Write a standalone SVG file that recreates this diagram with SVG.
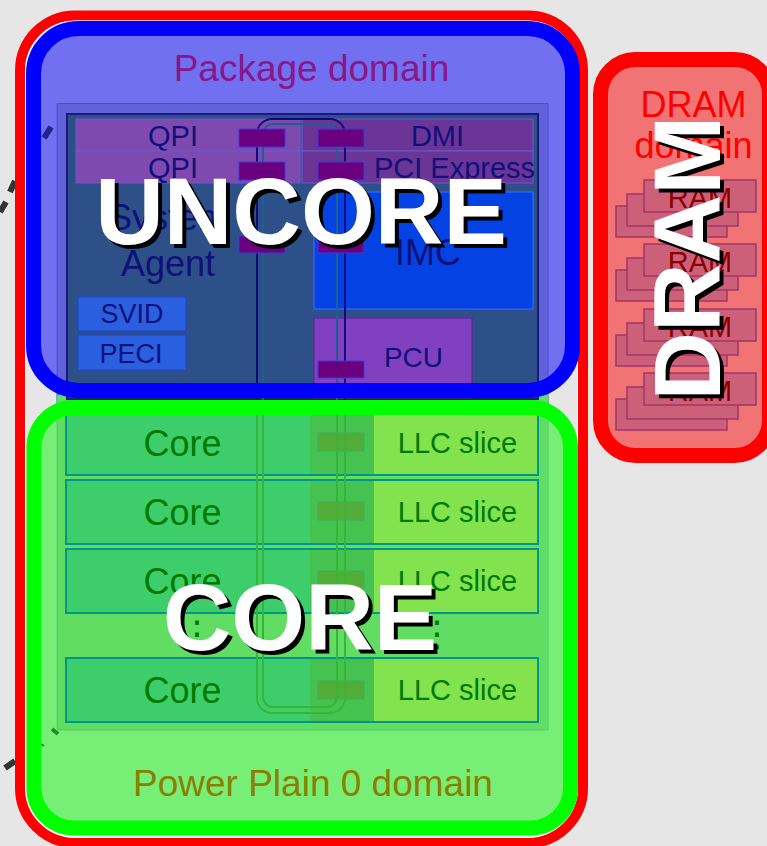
<svg xmlns="http://www.w3.org/2000/svg" width="767" height="846" viewBox="0 0 767 846">
<style>
text{font-family:"Liberation Sans",Arial,sans-serif}
.c{text-anchor:middle}
.navy{fill:#10107a}
.gt{fill:#007a00}
.big{font-weight:bold;font-size:95px;text-anchor:middle}
.sh{fill:#000}
.wh{fill:#fff}
.stop{fill:#6a0080;stroke:#3a3ad8;stroke-width:1}
.gstop{fill:#52ad38;stroke:#3fae5e;stroke-width:1}
.rowb{fill:none;stroke:#00968c;stroke-width:2}
.core{fill:#3dce6b}
.mid{fill:#45c250}
.llc{fill:#82e34f}
.ram{fill:#cc6079;stroke:#a3356a;stroke-width:1.5}
.dash{stroke:#333;stroke-width:6}
.dots{font-family:"DejaVu Sans",sans-serif;font-size:36px;fill:#007a00;text-anchor:middle}
</style>
<defs>
<clipPath id="cu"><rect x="0" y="0" width="767" height="400"/></clipPath>
<clipPath id="cl"><rect x="0" y="400" width="767" height="446"/></clipPath>
</defs>
<rect width="767" height="846" fill="#e6e6e6"/>
<g id="dashes-out">
<line class="dash" x1="10" y1="192" x2="15" y2="181"/>
<line class="dash" x1="0" y1="212" x2="6" y2="202"/>
<line class="dash" x1="5" y1="768" x2="15" y2="761"/>
</g>
<g id="package-outer">
<rect x="20" y="15.5" width="563" height="827.5" rx="55" fill="none" stroke="#ff0000" stroke-width="10"/>
<rect x="25.5" y="21" width="552" height="816.5" rx="50" fill="none" stroke="#ffffff" stroke-width="1"/>
</g>
<rect x="33.5" y="28.5" width="539" height="362" rx="45" fill="#7070f0"/>
<rect x="34" y="407.5" width="536.5" height="420.5" rx="40" fill="#77ef77"/>
<g id="dashes-in">
<line x1="44" y1="138" x2="51" y2="127" stroke="#23238f" stroke-width="6"/>
<line x1="52" y1="729" x2="58" y2="734" stroke="#2a8a2a" stroke-width="4"/>
<line x1="41" y1="744" x2="44" y2="746" stroke="#2a8a2a" stroke-width="2"/>
</g>
<g id="chip">
<rect x="57" y="103.5" width="491" height="300" fill="#6161dc" stroke="#4a4ae2" stroke-width="1"/>
<rect x="57" y="395" width="491" height="335" fill="#60dd62" stroke="#52cc70" stroke-width="1"/>
<rect x="67" y="114" width="471" height="285" fill="#2d5089" stroke="#1a1a7a" stroke-width="2"/>
</g>
<g id="qpi1"><rect x="76" y="119" width="224" height="32" fill="#7f4aaf" stroke="#6b5acb" stroke-width="1"/><text x="173" y="146" font-size="29" class="c navy">QPI</text></g>
<g id="qpi2"><rect x="76" y="151" width="224" height="32" fill="#7f4aaf" stroke="#6b5acb" stroke-width="1"/><text x="173" y="178" font-size="29" class="c navy">QPI</text></g>
<g id="dmi"><rect x="302" y="119" width="231" height="32" fill="#6a3596" stroke="#6b5acb" stroke-width="1"/><text x="437.5" y="146" font-size="29" class="c navy">DMI</text></g>
<g id="pcie"><rect x="302" y="151" width="231" height="32" fill="#6a3596" stroke="#6b5acb" stroke-width="1"/><text x="454.5" y="178" font-size="29" class="c navy">PCI Express</text></g>
<g id="system-agent"><text x="168" y="230" font-size="36" class="c navy">System</text><text x="168" y="276" font-size="36" class="c navy">Agent</text></g>
<g id="svid"><rect x="78" y="297" width="108" height="34" fill="#2a5fe0" stroke="#1a45d0" stroke-width="1"/><text x="132" y="323" font-size="27" class="c navy">SVID</text></g>
<g id="peci"><rect x="78" y="335" width="108" height="35" fill="#2a5fe0" stroke="#1a45d0" stroke-width="1"/><text x="131" y="363" font-size="27" class="c navy">PECI</text></g>
<g id="imc"><rect x="314" y="192" width="219" height="117" fill="#0442e4" stroke="#3b6cff" stroke-width="1"/><text x="428" y="265" font-size="36" class="c navy">IMC</text></g>
<g id="pcu"><rect x="314" y="318" width="158" height="80" fill="#8040c0" stroke="#6a1a9a" stroke-width="1"/><text x="413.5" y="367" font-size="28" class="c navy">PCU</text></g>
<g id="core1"><rect class="core" x="66" y="411" width="244" height="64"/><rect class="mid" x="310" y="411" width="64" height="64"/><rect class="llc" x="374" y="411" width="164" height="64"/><rect class="rowb" x="66" y="411" width="472" height="64"/><rect class="gstop" x="318" y="433" width="46" height="18"/><text x="182.5" y="456" font-size="36" class="c gt">Core</text><text x="457.5" y="453" font-size="29" class="c gt">LLC slice</text></g>
<g id="core2"><rect class="core" x="66" y="480" width="244" height="64"/><rect class="mid" x="310" y="480" width="64" height="64"/><rect class="llc" x="374" y="480" width="164" height="64"/><rect class="rowb" x="66" y="480" width="472" height="64"/><rect class="gstop" x="318" y="502" width="46" height="18"/><text x="182.5" y="525" font-size="36" class="c gt">Core</text><text x="457.5" y="522" font-size="29" class="c gt">LLC slice</text></g>
<g id="core3"><rect class="core" x="66" y="549" width="244" height="64"/><rect class="mid" x="310" y="549" width="64" height="64"/><rect class="llc" x="374" y="549" width="164" height="64"/><rect class="rowb" x="66" y="549" width="472" height="64"/><rect class="gstop" x="318" y="571" width="46" height="18"/><text x="182.5" y="594" font-size="36" class="c gt">Core</text><text x="457.5" y="591" font-size="29" class="c gt">LLC slice</text></g>
<g id="ellipsis"><text x="197" y="646" class="dots">⋮</text><text x="437" y="646" class="dots">⋮</text></g>
<g id="core4"><rect class="core" x="66" y="658" width="244" height="64"/><rect class="mid" x="310" y="658" width="64" height="64"/><rect class="llc" x="374" y="658" width="164" height="64"/><rect class="rowb" x="66" y="658" width="472" height="64"/><rect class="gstop" x="318" y="681" width="46" height="18"/><text x="182.5" y="703" font-size="36" class="c gt">Core</text><text x="457.5" y="700" font-size="29" class="c gt">LLC slice</text></g>
<g id="connectors">
<g clip-path="url(#cu)">
<rect x="257" y="119" width="88" height="594" rx="15" fill="none" stroke="#0c0c80" stroke-width="2"/>
<rect x="263" y="124" width="74" height="583" rx="10" fill="none" stroke="#1f5f8f" stroke-width="2"/>
</g>
<g clip-path="url(#cl)">
<rect x="257" y="119" width="88" height="594" rx="15" fill="none" stroke="#36b536" stroke-width="2"/>
<rect x="263" y="124" width="74" height="583" rx="10" fill="none" stroke="#36b536" stroke-width="2"/>
</g>
</g>
<g id="ring-stops">
<rect class="stop" x="239" y="129" width="46" height="18"/>
<rect class="stop" x="239" y="162" width="46" height="18"/>
<rect class="stop" x="239" y="236" width="46" height="17"/>
<rect class="stop" x="318" y="129" width="46" height="18"/>
<rect class="stop" x="318" y="162" width="46" height="18"/>
<rect class="stop" x="318" y="236" width="46" height="17"/>
<rect class="stop" x="318" y="361" width="46" height="17"/>
</g>
<g id="package-domain">
<rect x="33.5" y="28.5" width="539" height="362" rx="45" fill="none" stroke="#0000ff" stroke-width="15"/>
<text x="311.5" y="81" font-size="37" class="c" fill="#8a168a">Package domain</text>
</g>
<g id="pp0-domain">
<rect x="34" y="407.5" width="536.5" height="420.5" rx="40" fill="none" stroke="#00ff00" stroke-width="15"/>
<text x="313" y="796" font-size="37" class="c" fill="#8a7f00">Power Plain 0 domain</text>
</g>
<g id="dram-domain">
<rect x="600.5" y="59.5" width="169" height="396" rx="35" fill="#f27373" stroke="#ff0000" stroke-width="15"/>
<text x="693.5" y="117" font-size="36" class="c" fill="#ff0000">DRAM</text>
<text x="693.5" y="158" font-size="36" class="c" fill="#ff0000">domain</text>
<g id="ram1"><rect class="ram" x="616" y="206" width="111" height="31"/><rect class="ram" x="627" y="194" width="111" height="32"/><rect class="ram" x="644" y="180" width="112" height="32"/><text x="700" y="208" font-size="29" class="c" fill="#8b0000">RAM</text></g>
<g id="ram2"><rect class="ram" x="616" y="270" width="111" height="31"/><rect class="ram" x="627" y="258" width="111" height="32"/><rect class="ram" x="644" y="244" width="112" height="32"/><text x="700" y="272" font-size="29" class="c" fill="#8b0000">RAM</text></g>
<g id="ram3"><rect class="ram" x="616" y="335" width="111" height="31"/><rect class="ram" x="627" y="323" width="111" height="32"/><rect class="ram" x="644" y="309" width="112" height="32"/><text x="700" y="337" font-size="29" class="c" fill="#8b0000">RAM</text></g>
<g id="ram4"><rect class="ram" x="616" y="399" width="111" height="31"/><rect class="ram" x="627" y="387" width="111" height="32"/><rect class="ram" x="644" y="373" width="112" height="32"/><text x="700" y="401" font-size="29" class="c" fill="#8b0000">RAM</text></g>
</g>
<g id="labels">
<text x="305" y="248" class="big sh">UNCORE</text>
<text x="301" y="244" class="big wh">UNCORE</text>
<text x="304" y="654" class="big sh">CORE</text>
<text x="300" y="650" class="big wh">CORE</text>
<text transform="translate(724,262) rotate(-90)" class="big sh">DRAM</text>
<text transform="translate(720,258) rotate(-90)" class="big wh">DRAM</text>
</g>
</svg>
